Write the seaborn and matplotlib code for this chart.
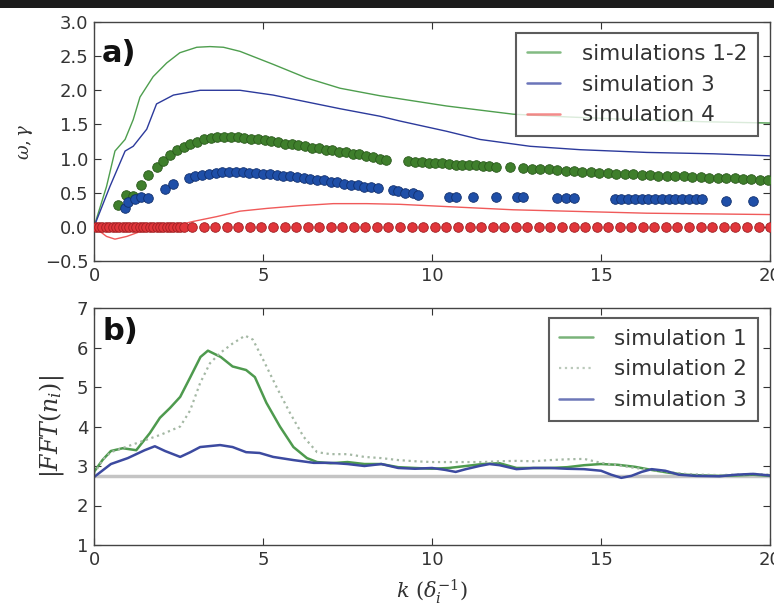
import matplotlib
matplotlib.use("Agg")
import matplotlib.pyplot as plt
import seaborn as sns
from matplotlib.patches import Rectangle

# ---------------- data : panel a ----------------
# dispersion curves (lines)
k_line_12 = [0, 0.37, 0.62, 0.92, 1.16, 1.36, 1.75, 2.15, 2.54, 3.04, 3.43, 3.83, 4.32, 5.3,
             6.29, 7.28, 8.46, 10.43, 12.4, 14.0, 16.0, 18.0, 20.0]
w_line_12 = [0, 0.59, 1.11, 1.28, 1.57, 1.90, 2.20, 2.40, 2.55, 2.63, 2.64, 2.63, 2.57, 2.38,
             2.18, 2.03, 1.92, 1.77, 1.65, 1.61, 1.57, 1.54, 1.52]

k_line_3 = [0, 0.47, 0.92, 1.16, 1.56, 1.85, 2.35, 3.14, 4.32, 5.3, 6.29, 7.28, 8.46,
            9.05, 10.43, 11.42, 12.9, 14.38, 16.35, 18.32, 20.0]
w_line_3 = [0, 0.59, 1.11, 1.18, 1.43, 1.80, 1.93, 2.00, 2.00, 1.93, 1.83, 1.73, 1.62,
            1.55, 1.40, 1.28, 1.18, 1.13, 1.09, 1.07, 1.04]

k_line_4 = [0, 0.37, 0.62, 0.97, 1.36, 1.85, 2.35, 2.94, 3.63, 4.32, 5.11, 6.09, 7.08, 8.07,
            9.05, 12.4, 16.35, 20.0]
w_line_4 = [0, -0.14, -0.18, -0.14, -0.07, -0.02, 0.01, 0.08, 0.15, 0.23, 0.27, 0.31, 0.34, 0.34,
            0.33, 0.25, 0.20, 0.18]

# simulation points (dots)
k_dots_12 = [0.7, 0.95, 1.15, 1.4, 1.6, 1.85, 2.05, 2.25, 2.45, 2.65, 2.85, 3.05, 3.25, 3.45,
             3.65, 3.85, 4.05, 4.25, 4.45, 4.65, 4.85, 5.05, 5.25, 5.45, 5.65, 5.85, 6.05, 6.25,
             6.45, 6.65, 6.85, 7.05, 7.25, 7.45, 7.65, 7.85, 8.05, 8.25, 8.45, 8.65,
             9.3, 9.5, 9.7, 9.9, 10.1, 10.3, 10.5, 10.7, 10.9, 11.1, 11.3, 11.5, 11.7, 11.9,
             12.3,
             12.7, 12.95, 13.2, 13.45, 13.7, 13.95, 14.2, 14.45, 14.7, 14.95, 15.2, 15.45, 15.7,
             15.95, 16.2, 16.45, 16.7, 16.95, 17.2, 17.45, 17.7, 17.95, 18.2, 18.45, 18.7, 18.95,
             19.2, 19.45, 19.7, 19.95]
w_dots_12 = [0.32, 0.47, 0.45, 0.62, 0.76, 0.87, 0.96, 1.05, 1.12, 1.17, 1.21, 1.25, 1.28, 1.30,
             1.31, 1.31, 1.31, 1.31, 1.30, 1.29, 1.28, 1.27, 1.26, 1.24, 1.22, 1.21, 1.20, 1.18,
             1.16, 1.15, 1.13, 1.12, 1.10, 1.09, 1.07, 1.06, 1.04, 1.02, 1.00, 0.98,
             0.96, 0.95, 0.95, 0.94, 0.93, 0.93, 0.92, 0.91, 0.91, 0.90, 0.90, 0.89, 0.89, 0.88,
             0.87,
             0.86, 0.85, 0.85, 0.84, 0.83, 0.82, 0.82, 0.81, 0.80, 0.79, 0.79, 0.78, 0.77,
             0.77, 0.76, 0.76, 0.75, 0.75, 0.74, 0.74, 0.73, 0.73, 0.72, 0.72, 0.71, 0.71,
             0.70, 0.70, 0.69, 0.69]

k_dots_3 = [0.92, 1.02, 1.2, 1.4, 1.6, 2.1, 2.35, 2.8, 3.0, 3.2, 3.4, 3.6, 3.8, 4.0, 4.2, 4.4,
            4.6, 4.8, 5.0, 5.2, 5.4, 5.6, 5.8, 6.0, 6.2, 6.4, 6.6, 6.8, 7.0, 7.2, 7.4, 7.6, 7.8,
            8.0, 8.2, 8.4, 8.85, 9.0, 9.2, 9.45, 9.6, 10.5, 10.7, 11.2, 11.9, 12.5, 12.7,
            13.7, 13.95, 14.2, 15.4, 15.6, 15.8, 16.0, 16.2, 16.4, 16.6, 16.8, 17.0, 17.2, 17.4,
            17.6, 17.8, 18.0, 18.7, 19.5]
w_dots_3 = [0.28, 0.36, 0.41, 0.43, 0.42, 0.56, 0.63, 0.72, 0.74, 0.76, 0.78, 0.79, 0.80, 0.80,
            0.80, 0.80, 0.79, 0.79, 0.78, 0.77, 0.76, 0.75, 0.74, 0.73, 0.72, 0.70, 0.69, 0.68,
            0.66, 0.65, 0.63, 0.62, 0.61, 0.59, 0.58, 0.57, 0.54, 0.52, 0.50, 0.49, 0.47,
            0.43, 0.43, 0.43, 0.43, 0.43, 0.43, 0.42, 0.42, 0.42, 0.41, 0.41, 0.41, 0.41, 0.41,
            0.41, 0.41, 0.41, 0.41, 0.41, 0.41, 0.41, 0.41, 0.41, 0.38, 0.38]

k_dots_4 = [0.05, 0.15, 0.25, 0.35, 0.45, 0.55, 0.65, 0.75, 0.85, 0.95, 1.05, 1.15, 1.25, 1.35,
            1.45, 1.55, 1.65, 1.75, 1.85, 1.95, 2.05, 2.15, 2.25, 2.35, 2.45, 2.55, 2.65,
            2.90, 3.24, 3.58, 3.93, 4.27, 4.61, 4.95, 5.29, 5.64, 5.98, 6.32, 6.66, 7.00, 7.35,
            7.69, 8.03, 8.37, 8.71, 9.06, 9.40, 9.74, 10.08, 10.42, 10.77, 11.11, 11.45, 11.79,
            12.13, 12.48, 12.82, 13.16, 13.50, 13.84, 14.19, 14.53, 14.87, 15.21, 15.55, 15.90,
            16.24, 16.58, 16.92, 17.26, 17.61, 17.95, 18.29, 18.63, 18.97, 19.32, 19.66, 20.00]
w_dots_4 = [0.0] * len(k_dots_4)

# ---------------- data : panel b ----------------
k_fft_1 = [0, 0.25, 0.5, 0.85, 1.25, 1.65, 1.95, 2.25, 2.55, 2.85, 3.15, 3.37, 3.75, 4.1, 4.5,
           4.76, 5.1, 5.5, 5.9, 6.3, 6.6, 7.0, 7.5, 8.0, 8.5, 9.0, 9.5, 10.0, 10.5, 11.0, 11.5,
           12.0, 12.5, 13.0, 13.5, 14.0, 14.5, 15.0, 15.5, 16.0, 16.5, 17.0, 17.5, 18.0, 18.5,
           19.0, 19.5, 20.0]
fft_1 = [2.85, 3.15, 3.38, 3.45, 3.40, 3.83, 4.22, 4.47, 4.75, 5.25, 5.76, 5.92, 5.76, 5.52, 5.43,
         5.25, 4.60, 4.00, 3.48, 3.20, 3.10, 3.07, 3.10, 3.05, 3.05, 2.97, 2.95, 2.93, 2.95, 3.00,
         3.05, 3.07, 2.95, 2.95, 2.95, 2.97, 3.02, 3.05, 3.03, 2.98, 2.90, 2.83, 2.78, 2.76, 2.75,
         2.76, 2.78, 2.75]

k_fft_2 = [0, 0.25, 0.5, 1.0, 1.5, 2.0, 2.55, 2.84, 3.14, 3.43, 3.73, 4.1, 4.47, 4.7, 5.0, 5.4,
           5.8, 6.2, 6.6, 7.0, 7.5, 8.0, 8.5, 9.0, 9.5, 10.0, 10.5, 11.0, 11.5, 12.0, 12.5, 13.0,
           13.5, 14.0, 14.5, 15.0, 15.5, 16.0, 16.5, 17.0, 17.5, 18.0, 18.5, 19.0, 19.5, 20.0]
fft_2 = [2.80, 3.15, 3.35, 3.50, 3.65, 3.80, 4.00, 4.40, 5.10, 5.60, 5.86, 6.10, 6.30, 6.20, 5.70,
         5.00, 4.34, 3.74, 3.35, 3.30, 3.30, 3.23, 3.20, 3.15, 3.12, 3.10, 3.10, 3.10, 3.10, 3.12,
         3.13, 3.12, 3.15, 3.17, 3.18, 3.08, 3.02, 2.95, 2.90, 2.85, 2.80, 2.78, 2.77, 2.78, 2.80,
         2.78]

k_fft_3 = [0, 0.5, 1.0, 1.5, 1.8, 2.1, 2.55, 2.85, 3.14, 3.73, 4.1, 4.5, 4.9, 5.3, 5.9, 6.5, 7.0,
           7.5, 8.0, 8.5, 9.0, 9.5, 10.0, 10.4, 10.7, 11.0, 11.4, 11.7, 12.0, 12.5, 13.0, 13.5,
           14.0, 14.5, 15.0, 15.3, 15.6, 15.9, 16.2, 16.5, 16.9, 17.3, 17.8, 18.5, 19.0, 19.5, 20.0]
fft_3 = [2.72, 3.05, 3.20, 3.40, 3.50, 3.38, 3.23, 3.35, 3.48, 3.53, 3.48, 3.35, 3.33, 3.23, 3.15,
         3.08, 3.08, 3.05, 3.00, 3.05, 2.95, 2.93, 2.95, 2.90, 2.85, 2.92, 3.00, 3.05, 3.02, 2.92,
         2.95, 2.95, 2.93, 2.92, 2.88, 2.78, 2.70, 2.75, 2.85, 2.92, 2.88, 2.78, 2.75, 2.74, 2.78,
         2.80, 2.76]
fft_floor = 2.75

x_ticks = [0, 5, 10, 15, 20]
a_yticks = [-0.5, 0.0, 0.5, 1.0, 1.5, 2.0, 2.5, 3.0]
b_yticks = [1, 2, 3, 4, 5, 6, 7]

# ---------------- figure ----------------
sns.set_theme(style="ticks")
plt.rcParams['font.family'] = ['DejaVu Sans']
plt.rcParams['mathtext.fontset'] = 'dejavuserif'

fig = plt.figure(figsize=(7.74, 6.08), dpi=100)
fig.patches.append(Rectangle((0, 1 - 8 / 608), 1, 8 / 608, transform=fig.transFigure,
                             facecolor='#1c1c1c', edgecolor='none', zorder=10))

ax1 = fig.add_axes([94 / 774, 1 - 261 / 608, 676 / 774, 239 / 608])
ax2 = fig.add_axes([94 / 774, 1 - 545 / 608, 676 / 774, 237 / 608])

tick_col = '#333333'
for ax in (ax1, ax2):
    ax.tick_params(direction='in', top=True, right=True, length=5, width=0.8,
                   labelsize=13, colors=tick_col, pad=4)
    for s in ax.spines.values():
        s.set_color('#444444')
        s.set_linewidth(1.0)

leg_kw = dict(loc='upper right', borderaxespad=0, fontsize=15.5, frameon=True,
              fancybox=False, handlelength=1.55, handletextpad=1.0, borderpad=0.5,
              labelspacing=0.5)

# panel a lines
sns.lineplot(x=k_line_12, y=w_line_12, ax=ax1, color='#4e9e4e', lw=1.0,
             sort=False, estimator=None, label='simulations 1-2')
sns.lineplot(x=k_line_3, y=w_line_3, ax=ax1, color='#2c3a9c', lw=1.0,
             sort=False, estimator=None, label='simulation 3')
sns.lineplot(x=k_line_4, y=w_line_4, ax=ax1, color='#f05a5a', lw=1.0,
             sort=False, estimator=None, label='simulation 4')

# panel a dots
sns.scatterplot(x=k_dots_12, y=w_dots_12, ax=ax1, s=48, color='#3f7f2c',
                edgecolor='#2a5a1c', linewidth=0.6, zorder=3, legend=False)
sns.scatterplot(x=k_dots_3, y=w_dots_3, ax=ax1, s=48, color='#1f4fa8',
                edgecolor='#12306e', linewidth=0.6, zorder=3, legend=False)
sns.scatterplot(x=k_dots_4, y=w_dots_4, ax=ax1, s=48, color='#e0353a',
                edgecolor='#9e1f22', linewidth=0.6, zorder=3, legend=False)

ax1.set_xlim(0, 20)
ax1.set_ylim(-0.5, 3.0)
ax1.set_xticks(x_ticks)
ax1.set_yticks(a_yticks)
ax1.set_yticklabels([f'{v:.1f}'.replace('-', '\u2212') for v in a_yticks])
ax1.set_ylabel(r'$\omega, \gamma$', fontsize=13, labelpad=7, color=tick_col)
ax1.text(0.012, 0.93, 'a)', transform=ax1.transAxes, fontsize=22, fontweight='bold',
         va='top', ha='left', color='#111111')
leg1 = ax1.legend(bbox_to_anchor=(0.982, 0.954), **leg_kw)
leg1.get_frame().set_edgecolor('#333333')
leg1.get_frame().set_linewidth(1.5)
for h in leg1.get_lines():
    h.set_linewidth(1.8)
    h.set_alpha(0.7)
for t in leg1.get_texts():
    t.set_color('#333333')

# panel b
ax2.axhline(fft_floor, color='#c4c4c4', lw=2.5, zorder=1)
sns.lineplot(x=k_fft_1, y=fft_1, ax=ax2, color='#4e9a4e', lw=1.8,
             sort=False, estimator=None, label='simulation 1')
sns.lineplot(x=k_fft_2, y=fft_2, ax=ax2, color='#a4b8a4', lw=1.6, linestyle=':',
             sort=False, estimator=None, label='simulation 2')
sns.lineplot(x=k_fft_3, y=fft_3, ax=ax2, color='#3c4aa0', lw=1.8,
             sort=False, estimator=None, label='simulation 3')
ax2.set_xlim(0, 20)
ax2.set_ylim(1, 7)
ax2.set_xticks(x_ticks)
ax2.set_yticks(b_yticks)
ax2.set_ylabel(r'$|FFT(n_i)|$', fontsize=17, labelpad=8, color=tick_col)
ax2.set_xlabel(r'$k\ (\delta_i^{-1})$', fontsize=15, labelpad=6, color=tick_col)
ax2.text(0.012, 0.96, 'b)', transform=ax2.transAxes, fontsize=22, fontweight='bold',
         va='top', ha='left', color='#111111')
leg2 = ax2.legend(bbox_to_anchor=(0.982, 0.958), **leg_kw)
leg2.get_frame().set_edgecolor('#333333')
leg2.get_frame().set_linewidth(1.5)
for h in leg2.get_lines():
    h.set_alpha(0.75)
for t in leg2.get_texts():
    t.set_color('#333333')

fig.savefig('out.png', dpi=100)
